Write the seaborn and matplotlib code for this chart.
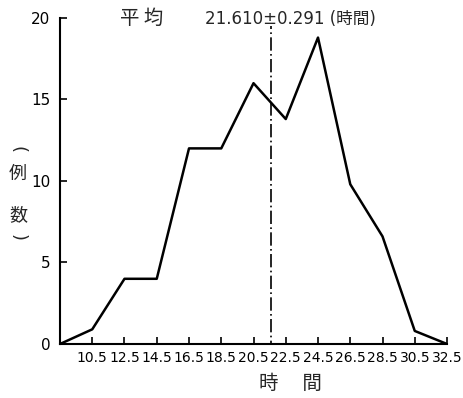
import matplotlib.pyplot as plt
import seaborn as sns
import pandas as pd

plt.switch_backend("Agg")

# class mid-points (hours) and number of cases
hours = [8.5, 10.5, 12.5, 14.5, 16.5, 18.5, 20.5, 22.5, 24.5, 26.5, 28.5, 30.5, 32.5]
cases = [0, 0.9, 4, 4, 12, 12, 16, 13.8, 18.8, 9.8, 6.6, 0.8, 0]
tick_hours = [10.5, 12.5, 14.5, 16.5, 18.5, 20.5, 22.5, 24.5, 26.5, 28.5, 30.5, 32.5]
y_ticks = [0, 5, 10, 15, 20]
mean_hours = 21.61

def main():
    df = pd.DataFrame({"時間": hours, "例数": cases})
    sns.set_style("ticks")
    plt.rcParams["font.family"] = ["DejaVu Sans", "Noto Sans CJK JP"]
    cjk = ["Noto Sans CJK JP", "DejaVu Sans"]

    fig = plt.figure(figsize=(4.64, 3.98), dpi=100)
    ax = fig.add_axes([0.1293, 0.1357, 0.8341, 0.8191])

    sns.lineplot(x="時間", y="例数", data=df, color="black", linewidth=1.8, ax=ax)
    ax.plot([mean_hours, mean_hours], [-0.6, 19.5], color="black",
            linewidth=1.2, linestyle=(0, (8, 2, 1, 2)))

    ax.set_xlim(8.5, 32.5)
    ax.set_ylim(0, 20)
    ax.set_xticks(tick_hours)
    ax.set_xticklabels([f"{t:.1f}" for t in tick_hours], fontsize=10)
    ax.set_yticks(y_ticks)
    ax.set_yticklabels([str(v) for v in y_ticks], fontsize=11)
    ax.tick_params(direction="in", length=5, width=1.2, colors="black")
    ax.tick_params(axis="y", pad=7)
    ax.tick_params(axis="x", pad=5)
    sns.despine(ax=ax)
    for s in ["left", "bottom"]:
        ax.spines[s].set_linewidth(1.5)
        ax.spines[s].set_color("black")
    ax.set_xlabel("")
    ax.set_ylabel("")

    fig.text(120 / 464, 1 - 18 / 398, "平 均", fontsize=14, va="center", ha="left",
             family=cjk)
    fig.text(205 / 464, 1 - 19 / 398, "21.610±0.291 (時間)", fontsize=12,
             va="center", ha="left")
    fig.text(290 / 464, 1 - 383 / 398, "時　 間", fontsize=14, va="center",
             ha="center", family=cjk)

    # vertical y label: (例数) with upright characters
    x_lab = 18 / 464
    fig.text(x_lab, 1 - 150 / 398, "(", fontsize=13, rotation=-90,
             va="center", ha="center")
    fig.text(x_lab, 1 - 174 / 398, "例", fontsize=13, va="center", ha="center",
             family=cjk)
    fig.text(x_lab, 1 - 215 / 398, "数", fontsize=13, va="center", ha="center",
             family=cjk)
    fig.text(x_lab, 1 - 238 / 398, ")", fontsize=13, rotation=-90,
             va="center", ha="center")

    fig.savefig("out.png", dpi=100)
    plt.close(fig)

main()
